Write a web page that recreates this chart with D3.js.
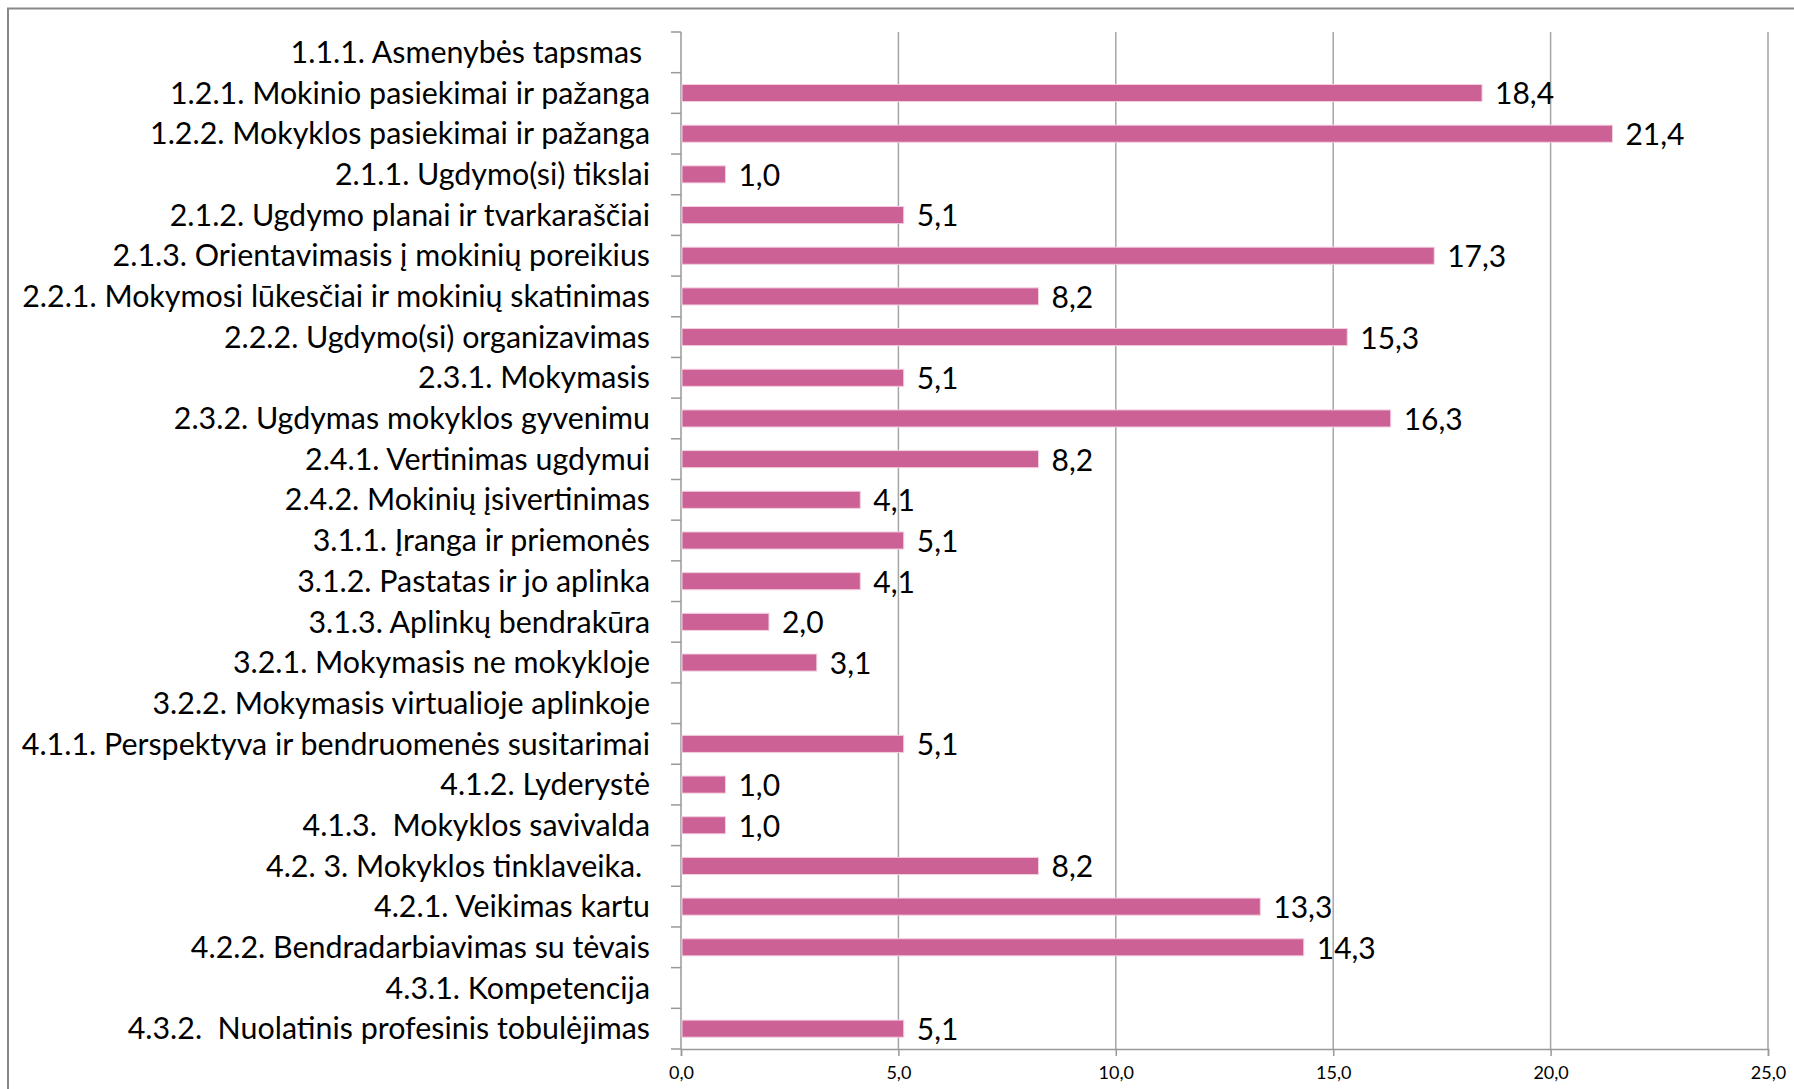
<!DOCTYPE html>
<html>
<head>
<meta charset="utf-8">
<script src="https://cdn.jsdelivr.net/npm/d3@7"></script>
<style>
  body { margin: 0; background: #fff; }
  text { font-family: Lato, "Open Sans", sans-serif; }
</style>
</head>
<body>
<svg id="chart"></svg>
<script>
const categories = [
  '1.1.1. Asmenybės tapsmas ',
  '1.2.1. Mokinio pasiekimai ir pažanga',
  '1.2.2. Mokyklos pasiekimai ir pažanga',
  '2.1.1. Ugdymo(si) tikslai',
  '2.1.2. Ugdymo planai ir tvarkaraščiai',
  '2.1.3. Orientavimasis į mokinių poreikius',
  '2.2.1. Mokymosi lūkesčiai ir mokinių skatinimas',
  '2.2.2. Ugdymo(si) organizavimas',
  '2.3.1. Mokymasis',
  '2.3.2. Ugdymas mokyklos gyvenimu',
  '2.4.1. Vertinimas ugdymui',
  '2.4.2. Mokinių įsivertinimas',
  '3.1.1. Įranga ir priemonės',
  '3.1.2. Pastatas ir jo aplinka',
  '3.1.3. Aplinkų bendrakūra',
  '3.2.1. Mokymasis ne mokykloje',
  '3.2.2. Mokymasis virtualioje aplinkoje',
  '4.1.1. Perspektyva ir bendruomenės susitarimai',
  '4.1.2. Lyderystė',
  '4.1.3.  Mokyklos savivalda',
  '4.2. 3. Mokyklos tinklaveika. ',
  '4.2.1. Veikimas kartu',
  '4.2.2. Bendradarbiavimas su tėvais',
  '4.3.1. Kompetencija',
  '4.3.2.  Nuolatinis profesinis tobulėjimas'
];
const values = [null, 18.4, 21.4, 1.0, 5.1, 17.3, 8.2, 15.3, 5.1, 16.3, 8.2, 4.1, 5.1, 4.1, 2.0, 3.1, null, 5.1, 1.0, 1.0, 8.2, 13.3, 14.3, null, 5.1];
const xTicks = [0, 5, 10, 15, 20, 25];

const width = 1794, height = 1089;
const plotLeft = 681, plotRight = 1768, plotTop = 32, plotBottom = 1049;
const fmt = v => v.toFixed(1).replace('.', ',');

const svg = d3.select('#chart').attr('width', width).attr('height', height);

// chart area border
svg.append('rect')
  .attr('x', 8).attr('y', 8.5)
  .attr('width', width + 20).attr('height', height + 20)
  .attr('fill', 'none').attr('stroke', '#888').attr('stroke-width', 2);

const x = d3.scaleLinear().domain([0, 25]).range([plotLeft, plotRight]);
const y = d3.scaleBand().domain(categories).range([plotTop, plotBottom])
  .paddingInner(0.58).paddingOuter(0.29);

// gridlines
svg.append('g')
  .selectAll('line')
  .data(xTicks.slice(1))
  .enter().append('line')
  .attr('x1', d => x(d)).attr('x2', d => x(d))
  .attr('y1', plotTop).attr('y2', plotBottom)
  .attr('stroke', '#a6a6a6').attr('stroke-width', 1.5);

// x axis
const xAxis = svg.append('g')
  .attr('transform', `translate(0,${plotBottom})`)
  .call(d3.axisBottom(x).tickValues(xTicks).tickFormat(fmt).tickSize(7).tickPadding(10));
xAxis.select('.domain').attr('stroke', '#999').attr('stroke-width', 1.5);
xAxis.selectAll('.tick line').attr('stroke', '#999').attr('stroke-width', 1.5);
xAxis.selectAll('text').attr('font-size', 18).attr('fill', '#000')
  .style('font-family', 'Lato, sans-serif');

// y axis line and ticks at category boundaries
const rowH = (plotBottom - plotTop) / categories.length;
const bounds = d3.range(categories.length + 1).map(i => plotTop + i * rowH);
svg.append('line')
  .attr('x1', plotLeft).attr('x2', plotLeft).attr('y1', plotTop).attr('y2', plotBottom)
  .attr('stroke', '#999').attr('stroke-width', 1.5);
svg.append('g').selectAll('line')
  .data(bounds)
  .enter().append('line')
  .attr('x1', plotLeft - 10).attr('x2', plotLeft)
  .attr('y1', d => d).attr('y2', d => d)
  .attr('stroke', '#999').attr('stroke-width', 1.5);

// category labels
svg.append('g').selectAll('text')
  .data(categories)
  .enter().append('text')
  .attr('x', plotLeft - 31)
  .attr('y', d => y(d) + y.bandwidth() / 2)
  .attr('dy', '0.35em')
  .attr('text-anchor', 'end')
  .attr('font-size', 30.4)
  .attr('fill', '#000')
  .style('white-space', 'pre')
  .text(d => d);

// bars
const rows = categories.map((c, i) => ({ label: c, value: values[i] })).filter(d => d.value != null);
svg.append('g').selectAll('rect')
  .data(rows)
  .enter().append('rect')
  .attr('x', x(0) + 1)
  .attr('y', d => y(d.label))
  .attr('width', d => x(d.value) - x(0))
  .attr('height', y.bandwidth())
  .attr('fill', '#cc6196')
  .attr('stroke', '#f3cfe0').attr('stroke-width', 1);

// value labels
svg.append('g').selectAll('text')
  .data(rows)
  .enter().append('text')
  .attr('x', d => x(d.value) + 14)
  .attr('y', d => y(d.label) + y.bandwidth() / 2)
  .attr('dy', '0.38em')
  .attr('font-size', 30)
  .attr('fill', '#000')
  .text(d => fmt(d.value));
</script>
</body>
</html>
